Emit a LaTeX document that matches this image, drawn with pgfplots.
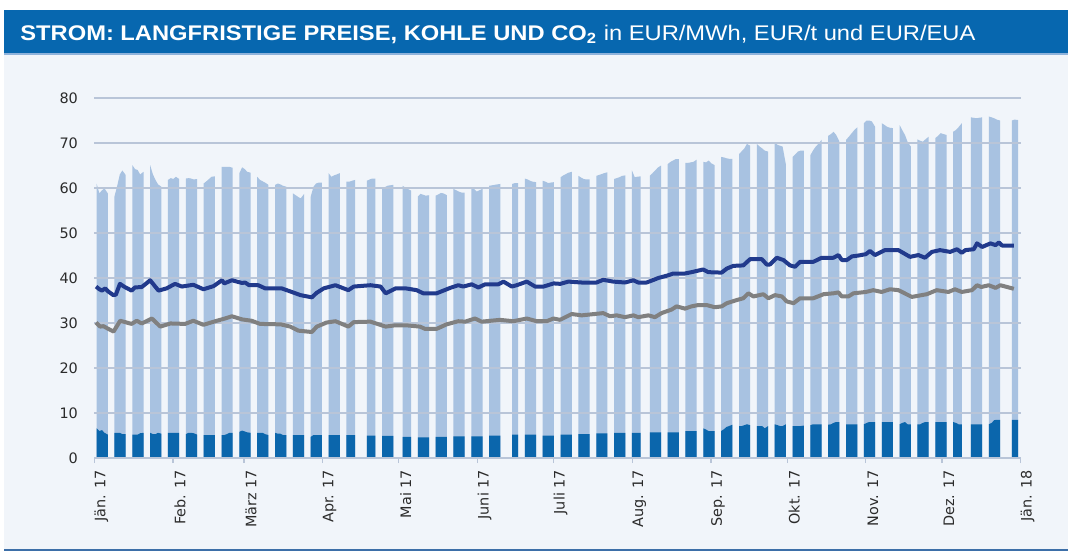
\documentclass[border=0pt]{standalone}
\usepackage{pgfplots}
\pgfplotsset{compat=1.18}
\usepackage{pgfplotstable}
\usepackage{fontspec}
\setmainfont{Liberation Sans}
\newfontfamily\tickfont{DejaVu Sans}
\definecolor{titleblue}{HTML}{0767AF}
\definecolor{titleline}{HTML}{8FB3DB}
\definecolor{panel}{HTML}{F1F5FA}
\definecolor{coal}{HTML}{A8C2E1}
\definecolor{eua}{HTML}{0B66AC}
\definecolor{peak}{HTML}{213A8C}
\definecolor{base}{HTML}{808080}
\definecolor{gridc}{HTML}{B9C5D8}
\definecolor{bottomline}{HTML}{3D6FA8}
\definecolor{ticktext}{HTML}{2B2B2B}

\pgfplotstableread{
d c e
0.9 0 0
0.9 61.0 6.6
2 58.8 6.0
3 59.5 6.2
4 59.9 5.6
5.3 58.8 5.2
5.3 0 0
7.9 0 0
7.9 58.1 5.6
9 60.5 5.6
10 63.0 5.6
11 63.9 5.3
12.3 62.9 5.3
12.3 0 0
14.9 0 0
14.9 65.1 5.2
16 64.2 5.2
17 64.0 5.2
18 63.0 5.5
19.3 63.6 5.6
19.3 0 0
21.9 0 0
21.9 65.1 5.6
23 63.0 5.3
24 61.8 5.3
25 60.8 5.6
26.3 60.3 5.4
26.3 0 0
28.9 0 0
28.9 61.8 5.6
30 62.2 5.6
31 62.0 5.6
32 62.5 5.6
33.3 62.0 5.6
33.3 0 0
35.9 0 0
35.9 62.1 5.3
37 62.2 5.6
38 62.1 5.6
39 61.9 5.5
40.3 62.0 5.2
40.3 0 0
42.9 0 0
42.9 61.0 5.1
44 61.5 5.1
45 62.0 5.1
46 62.5 5.1
47.3 62.6 5.1
47.3 0 0
49.9 0 0
49.9 64.7 5.1
51 64.7 5.1
52 64.7 5.3
53 64.7 5.6
54.3 64.5 5.6
54.3 0 0
56.9 0 0
56.9 63.3 5.8
58 64.6 6.1
59 64.2 5.9
60 63.6 5.7
61.3 63.4 5.6
61.3 0 0
63.9 0 0
63.9 62.5 5.6
65 61.8 5.6
66 61.5 5.6
67 61.2 5.3
68.3 60.7 5.1
68.3 0 0
70.9 0 0
70.9 60.7 5.6
72 61.0 5.4
73 60.8 5.4
74 60.5 5.1
75.3 60.3 5.1
75.3 0 0
77.9 0 0
77.9 58.8 5.1
79 58.4 5.1
80 58.0 5.1
81 57.7 5.1
82.3 58.7 5.1
82.3 0 0
84.9 0 0
84.9 58.1 4.7
86 60.3 5.1
87 61.0 5.1
88 61.2 5.1
89.3 61.2 5.1
89.3 0 0
91.9 0 0
91.9 63.3 5.1
93 62.5 5.1
94 62.8 5.1
95 63.0 5.1
96.3 63.3 5.1
96.3 0 0
98.9 0 0
98.9 61.4 5.1
100 61.4 5.1
101 61.6 5.1
102.3 61.8 5.1
102.3 0 0
106.9 0 0
106.9 61.6 5.0
108 61.9 5.0
109 62.1 5.0
110.3 62.1 5.0
110.3 0 0
112.9 0 0
112.9 59.8 4.9
114 60.2 4.9
115 60.5 4.9
116 60.6 4.9
117.3 60.7 4.9
117.3 0 0
120.9 0 0
120.9 60.5 4.7
122 60.1 4.7
123 59.8 4.7
124.3 59.4 4.7
124.3 0 0
126.9 0 0
126.9 58.1 4.6
128 58.7 4.6
129 58.5 4.6
130 58.3 4.6
131.3 58.4 4.6
131.3 0 0
133.9 0 0
133.9 58.3 4.7
135 58.6 4.7
136 58.9 4.7
137 58.8 4.7
138.3 58.4 4.7
138.3 0 0
140.9 0 0
140.9 59.8 4.8
142 59.5 4.8
143 59.2 4.8
144 59.0 4.8
145.3 59.0 4.8
145.3 0 0
147.9 0 0
147.9 60.1 4.8
149 59.8 4.8
150 59.2 4.8
151 59.5 4.8
152.3 59.8 4.8
152.3 0 0
154.9 0 0
154.9 60.5 5.0
156 60.6 5.0
157 60.7 5.0
158 60.8 5.0
159.3 60.9 5.0
159.3 0 0
163.9 0 0
163.9 60.9 5.2
165 61.1 5.2
166.3 61.1 5.2
166.3 0 0
168.9 0 0
168.9 62.1 5.2
170 61.9 5.2
171 61.6 5.2
172 61.4 5.2
173.3 61.3 5.2
173.3 0 0
175.9 0 0
175.9 61.6 5.0
177 61.4 5.0
178 61.1 5.0
179 61.2 5.0
180.3 61.3 5.0
180.3 0 0
182.9 0 0
182.9 62.4 5.2
184 62.8 5.2
185 63.1 5.2
186 63.4 5.2
187.3 63.6 5.2
187.3 0 0
189.9 0 0
189.9 62.7 5.3
191 62.3 5.3
192 62.0 5.3
193 61.9 5.3
194.3 61.9 5.3
194.3 0 0
196.9 0 0
196.9 62.7 5.5
198 62.9 5.5
199 63.1 5.5
200 63.3 5.5
201.3 63.5 5.5
201.3 0 0
203.9 0 0
203.9 62.0 5.6
205 62.2 5.6
206 62.4 5.6
207 62.7 5.6
208.3 62.8 5.6
208.3 0 0
210.9 0 0
210.9 63.9 5.6
212 62.4 5.6
213 62.5 5.6
214.3 62.6 5.6
214.3 0 0
217.9 0 0
217.9 62.7 5.7
219 63.3 5.7
220 63.9 5.7
221 64.5 5.7
222.3 65.0 5.7
222.3 0 0
224.9 0 0
224.9 65.3 5.7
226 65.8 5.7
227 66.1 5.7
228 66.4 5.7
229.3 66.4 5.7
229.3 0 0
231.9 0 0
231.9 65.6 6.0
233 65.6 6.0
234 65.7 6.0
235 65.8 6.0
236.3 66.3 6.0
236.3 0 0
238.9 0 0
238.9 65.8 6.6
240 65.7 6.3
241 66.1 6.0
242 65.5 6.0
243.3 65.1 6.0
243.3 0 0
245.9 0 0
245.9 66.9 6.0
247 66.8 6.4
248 66.6 6.9
249 66.5 7.1
250.3 66.5 7.4
250.3 0 0
252.9 0 0
252.9 67.5 7.1
254 68.2 7.1
255 68.8 7.3
256 69.8 7.5
257.3 69.4 7.3
257.3 0 0
259.9 0 0
259.9 69.8 7.1
261 69.2 7.1
262 68.8 7.1
263 68.3 6.6
264.3 68.1 7.1
264.3 0 0
266.9 0 0
266.9 70.1 7.5
268 69.6 7.3
269 69.4 7.1
270 69.2 7.1
271.3 65.2 7.5
271.3 0 0
273.9 0 0
273.9 66.9 7.1
275 67.5 7.1
276 68.1 7.1
277 68.3 7.1
278.3 68.3 7.2
278.3 0 0
280.9 0 0
280.9 67.3 7.3
282 68.4 7.5
283 69.2 7.5
284 69.8 7.5
285.3 70.7 7.5
285.3 0 0
287.9 0 0
287.9 71.6 7.4
289 72.0 7.5
290 72.5 7.8
291 71.8 8.0
292.3 70.3 8.0
292.3 0 0
294.9 0 0
294.9 70.7 7.5
296 71.4 7.5
297 72.1 7.5
298 72.8 7.5
299.3 73.5 7.5
299.3 0 0
301.9 0 0
301.9 74.4 7.5
303 75.0 7.8
304 75.0 8.0
305 74.8 8.0
306.3 73.6 8.0
306.3 0 0
308.9 0 0
308.9 74.4 8.0
310 74.0 8.0
311 73.6 8.0
312 73.4 8.0
313.3 73.3 8.0
313.3 0 0
315.9 0 0
315.9 74.0 7.5
317 72.8 7.8
318 71.8 8.0
319 70.3 7.5
320.3 69.2 7.5
320.3 0 0
322.9 0 0
322.9 70.8 7.5
324 70.5 7.5
325 70.3 7.8
326 70.8 8.0
327.3 71.4 8.0
327.3 0 0
329.9 0 0
329.9 71.1 8.0
331 71.6 8.0
332 72.2 8.0
333 72.0 8.0
334.3 71.8 8.0
334.3 0 0
336.9 0 0
336.9 72.5 8.0
338 72.9 7.8
339 73.5 7.5
340.3 74.4 7.5
340.3 0 0
343.9 0 0
343.9 75.7 7.5
345 75.6 7.5
346 75.5 7.5
347 75.6 7.5
348.3 75.7 7.5
348.3 0 0
350.9 0 0
350.9 75.9 7.5
352 75.7 7.8
353 75.5 8.4
354 75.2 8.5
355.3 75.0 8.5
355.3 0 0
359.9 0 0
359.9 75.0 8.5
361 75.2 8.5
362.4 75.1 8.5
362.4 0 0
}\bars

\pgfplotstableread{
d v
0.7 38.1
2.0 37.5
3.0 37.2
4.3 37.7
5.5 37.0
7.5 36.2
8.5 36.3
10.1 38.7
12.0 38.0
14.7 37.2
16.0 37.9
18.7 38.0
20.5 38.8
22.0 39.5
25.3 37.2
28.5 37.7
31.8 38.7
34.5 38.1
39.0 38.5
43.0 37.5
47.0 38.2
50.3 39.5
51.2 38.8
54.2 39.5
58.2 38.9
59.4 39.0
61.0 38.4
64.6 38.4
67.3 37.7
73.8 37.7
77.8 36.9
81.2 36.2
85.7 35.7
87.6 36.7
90.4 37.7
95.0 38.4
100.1 37.3
102.2 38.1
108.8 38.4
112.8 38.1
114.8 36.6
118.7 37.7
122.7 37.7
127.0 37.3
129.6 36.6
134.9 36.6
140.2 37.8
143.4 38.4
145.4 38.1
148.7 38.6
151.3 37.9
154.0 38.6
159.2 38.6
161.2 39.2
164.5 38.1
166.4 38.4
170.4 39.2
173.7 38.1
177.0 38.1
181.0 38.8
183.6 38.7
186.8 39.2
192.0 39.0
197.9 39.0
200.5 39.6
204.5 39.2
209.1 39.0
212.4 39.5
214.3 39.0
217.6 39.0
220.9 39.7
222.2 40.0
226.1 40.6
228.1 41.0
232.7 41.0
235.3 41.3
239.9 41.9
241.9 41.3
247.2 41.2
249.2 42.1
251.8 42.7
255.7 42.8
258.4 44.2
263.0 44.2
264.9 43.0
266.2 43.0
268.9 44.5
271.5 44.0
274.1 42.8
276.1 42.5
278.1 43.6
283.3 43.6
286.6 44.5
291.2 44.5
293.2 45.1
294.5 44.0
296.5 44.0
298.5 44.8
301.1 45.0
304.0 45.3
305.6 46.0
307.6 45.1
311.5 46.2
316.8 46.2
321.4 44.7
324.7 45.1
327.3 44.5
330.0 45.8
333.2 46.2
337.2 45.8
339.9 46.4
341.8 45.6
343.2 46.2
346.5 46.4
347.8 47.7
349.8 46.9
353.1 47.7
355.1 47.3
356.4 47.9
357.7 47.2
362.3 47.2
}\peakT

\pgfplotstableread{
d v
0.7 30.1
2.3 29.2
3.6 29.3
5.5 28.7
7.6 28.1
10.2 30.5
14.7 29.8
16.7 30.5
18.7 29.9
22.7 31.0
26.0 29.2
30.0 29.9
35.8 29.8
39.0 30.5
43.0 29.6
48.3 30.5
51.5 31.0
54.2 31.5
58.2 30.8
62.0 30.5
65.3 29.8
73.5 29.7
77.2 29.2
80.4 28.3
85.7 28.0
87.7 29.2
91.5 30.1
95.0 30.4
100.1 29.2
102.2 30.2
108.8 30.3
114.8 29.2
118.7 29.5
122.7 29.5
128.3 29.2
130.3 28.7
134.9 28.7
138.8 29.7
143.4 30.4
146.1 30.3
150.0 31.0
152.6 30.3
159.8 30.7
165.1 30.4
170.4 31.0
174.3 30.4
178.2 30.4
180.9 31.0
183.5 30.7
188.1 32.0
192.0 31.7
200.5 32.2
203.2 31.5
205.8 31.7
209.1 31.3
212.4 31.7
214.3 31.3
218.3 31.7
220.9 31.3
223.5 32.2
227.5 33.0
229.4 33.7
232.7 33.2
235.3 33.7
238.0 34.0
241.2 34.0
244.5 33.5
247.2 33.7
249.2 34.4
253.1 35.1
255.7 35.5
257.7 36.6
259.7 35.9
263.6 36.4
265.6 35.5
268.2 36.2
270.9 35.9
272.8 34.8
275.5 34.4
278.1 35.5
283.3 35.5
287.3 36.4
291.2 36.6
293.2 36.8
294.5 35.9
297.1 35.9
299.1 36.6
304.0 36.9
306.9 37.3
310.2 36.9
313.5 37.5
316.8 37.3
322.1 35.8
326.0 36.2
328.0 36.4
331.9 37.3
336.5 36.9
339.1 37.5
341.8 36.9
345.8 37.3
347.8 38.4
349.5 38.0
352.4 38.4
355.1 37.8
357.0 38.4
362.3 37.6
}\baseT

\pgfplotsset{
  common/.style={
    at={(47.15pt,-229pt)}, anchor=south west,
    scale only axis, width=463.2pt, height=180pt,
    xmin=0, xmax=365, ymin=0, ymax=80,
  }
}

\begin{document}
\begin{tikzpicture}
\begin{scope}[x=0.5pt,y=-0.5pt]
\fill[white] (0,0) rectangle (1072,552);
\fill[panel] (4,55) rectangle (1068,549);
\fill[titleblue] (4,10) rectangle (1068,53);
\draw[titleline, line width=0.8pt] (4,54) -- (1068,54);
\draw[bottomline, line width=0.8pt] (4,550) -- (1068,550);
\node[anchor=base west, inner sep=0pt, text=white] at (20,40)
  {\resizebox{477.5pt}{\height}{\fontsize{10.6}{12}\selectfont\textbf{STROM: LANGFRISTIGE PREISE, KOHLE UND CO\textsubscript{2}} in EUR/MWh, EUR/t und EUR/EUA}};
\end{scope}
\begin{axis}[
  common,
  axis on top,
  axis x line*=bottom, axis y line*=left,
  x axis line style={draw=gridc, line width=0.75pt},
  y axis line style={draw=none},
  ymajorgrids, grid style={gridc, line width=0.6pt},
  ytick={0,10,...,80},
  xtick={0,31,59,90,120,151,181,212,243,273,304,334,365},
  xticklabels={Jän. 17, Feb. 17, März 17, Apr. 17, Mai 17, Juni 17, Juli 17, Aug. 17, Sep. 17, Okt. 17, Nov. 17, Dez. 17, Jän. 18},
  tick align=outside, major tick length=2.5pt,
  xtick style={draw=gridc, line width=0.6pt},
  ytick style={draw=none},
  xticklabel style={rotate=90, anchor=east, yshift=-3.5pt, font=\tickfont\fontsize{7.2}{8}\selectfont, text=ticktext},
  yticklabel style={xshift=-2.2pt, font=\tickfont\fontsize{7.2}{8}\selectfont, text=ticktext},
  /pgf/number format/assume math mode=true,
]
\addplot[fill=coal, draw=none] table[x expr=\thisrow{d}*1.0044, y=c]{\bars} \closedcycle;
\addplot[fill=eua, draw=none] table[x expr=\thisrow{d}*1.0044, y=e]{\bars} \closedcycle;
\end{axis}
\begin{axis}[common, hide axis]
\addplot[base, line width=2pt, line join=round] table[x=d, y=v]{\baseT};
\addplot[peak, line width=2pt, line join=round] table[x=d, y=v]{\peakT};
\end{axis}
\end{tikzpicture}
\end{document}
